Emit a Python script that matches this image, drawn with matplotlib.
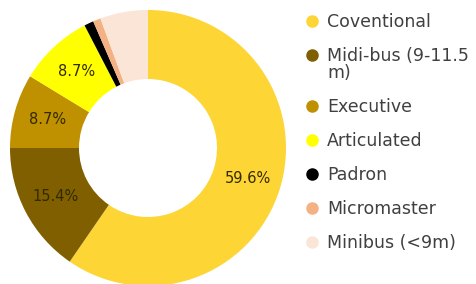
import matplotlib
matplotlib.use("Agg")
import numpy as np
import matplotlib.pyplot as plt

# bus fleet composition (percent)
categories = ["Coventional", "Midi-bus (9-11.5\nm)", "Executive", "Articulated",
              "Padron", "Micromaster", "Minibus (<9m)"]
shares = [59.6, 15.4, 8.7, 8.7, 1.1, 0.9, 5.6]
colors = ["#FDD535", "#7F5F00", "#BF9000", "#FFFF00", "#000000", "#F4B183", "#FBE5D6"]
shown_labels = ["59.6%", "15.4%", "8.7%", "8.7%", "", "", ""]

W, H = 477, 284
fig = plt.figure(figsize=(W / 100, H / 100), dpi=100)

# donut: centre about (148, 148) px, radius ~138 px
cx, cy, r = 148, 148, 138
ax = fig.add_axes([(cx - r) / W, (H - cy - r) / H, 2 * r / W, 2 * r / H])

wedges, _ = ax.pie(shares, colors=colors, startangle=90, counterclock=False,
                   radius=1.0, wedgeprops=dict(width=0.5, linewidth=0),
                   frame=False)
ax.set_xlim(-1, 1)
ax.set_ylim(-1, 1)
ax.set_aspect("equal")
ax.axis("off")

for w, lab in zip(wedges, shown_labels):
    if not lab:
        continue
    ang = np.deg2rad((w.theta1 + w.theta2) / 2)
    ax.text(0.755 * np.cos(ang), 0.755 * np.sin(ang), lab,
            ha="center", va="center", fontsize=10.5, color="#332a00")

# legend drawn by hand so the dot sits on the first line of a wrapped label
line_h = 17
y = 22
for name, c in zip(categories, colors):
    parts = name.split("\n")
    for k, part in enumerate(parts):
        fig.text(327 / W, 1 - (y + k * line_h) / H, part, ha="left",
                 va="center", fontsize=12.5, color="#404040")
    fig.add_artist(plt.Line2D([312 / W], [1 - (y - 1) / H], marker="o",
                              markersize=8, color=c, linestyle="",
                              transform=fig.transFigure))
    y += line_h * len(parts) + 17

fig.savefig("out.png", dpi=100)
